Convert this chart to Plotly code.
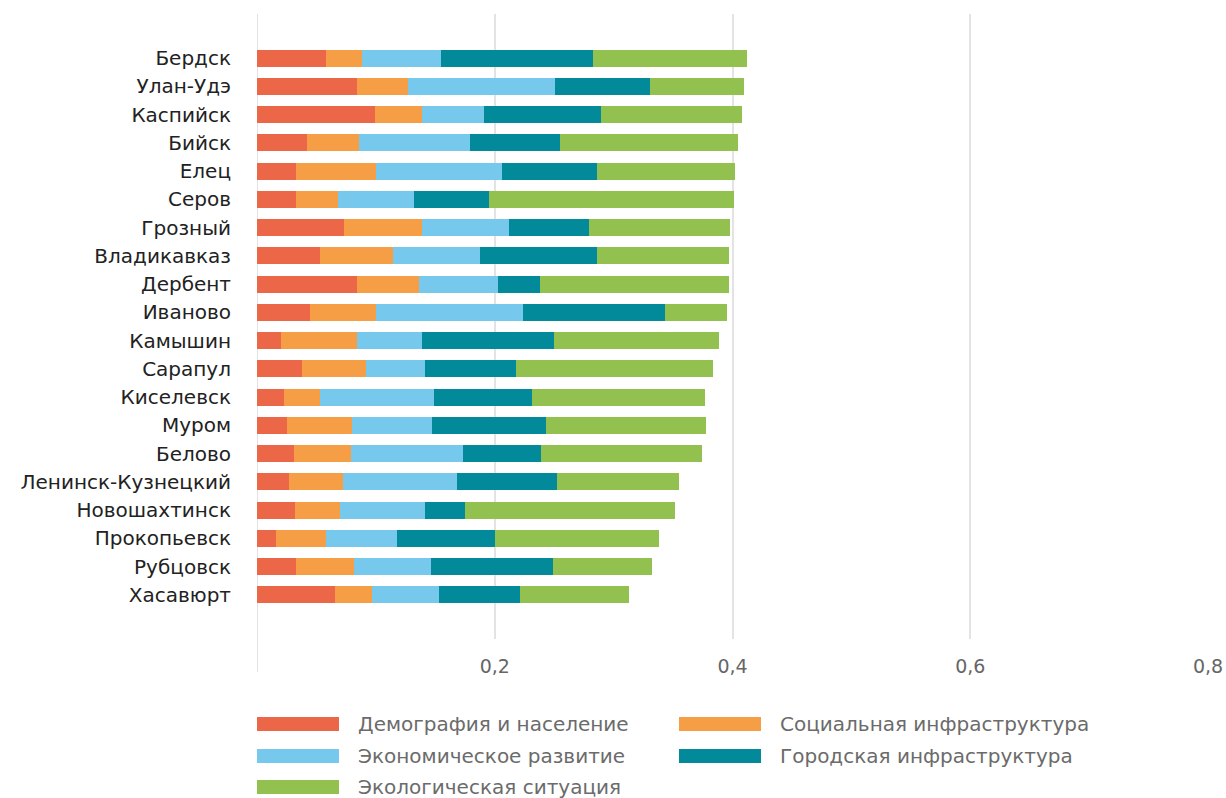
import plotly.graph_objects as go

cities = ["Бердск", "Улан-Удэ", "Каспийск", "Бийск", "Елец", "Серов", "Грозный",
          "Владикавказ", "Дербент", "Иваново", "Камышин", "Сарапул", "Киселевск",
          "Муром", "Белово", "Ленинск-Кузнецкий", "Новошахтинск", "Прокопьевск",
          "Рубцовск", "Хасавюрт"]

demography = [0.058, 0.084, 0.099, 0.042, 0.033, 0.033, 0.073, 0.053, 0.084, 0.045,
              0.020, 0.038, 0.023, 0.025, 0.031, 0.027, 0.032, 0.016, 0.033, 0.066]
social = [0.030, 0.043, 0.040, 0.044, 0.067, 0.035, 0.066, 0.061, 0.052, 0.055,
          0.064, 0.054, 0.030, 0.055, 0.048, 0.045, 0.038, 0.042, 0.049, 0.031]
economy = [0.067, 0.124, 0.052, 0.093, 0.106, 0.064, 0.073, 0.074, 0.067, 0.124,
           0.055, 0.049, 0.096, 0.067, 0.094, 0.096, 0.071, 0.060, 0.064, 0.056]
urban = [0.128, 0.080, 0.098, 0.076, 0.080, 0.063, 0.067, 0.098, 0.035, 0.119,
         0.111, 0.077, 0.082, 0.096, 0.066, 0.084, 0.034, 0.082, 0.103, 0.068]
ecology = [0.129, 0.079, 0.119, 0.150, 0.116, 0.206, 0.119, 0.111, 0.159, 0.052,
           0.139, 0.166, 0.146, 0.135, 0.135, 0.103, 0.177, 0.138, 0.083, 0.092]

series_names = ["Демография и население", "Социальная инфраструктура",
                "Экономическое развитие", "Городская инфраструктура",
                "Экологическая ситуация"]
series_values = [demography, social, economy, urban, ecology]
colors = ["#EC6648", "#F59E46", "#76C9ED", "#028A9B", "#92C150"]

tick_vals = [0.2, 0.4, 0.6, 0.8]
tick_text = ["0,2", "0,4", "0,6", "0,8"]

W, H = 1226, 798
L, R, T, B = 257, 18, 14, 159
pw, ph = W - L - R, H - T - B

fig = go.Figure()
for name, vals, col in zip(series_names, series_values, colors):
    fig.add_trace(go.Bar(y=cities, x=vals, name=name, orientation="h",
                         marker=dict(color=col, line=dict(width=0)),
                         width=0.6, showlegend=False))

FONT = "DejaVu Sans"

def px_x(px):
    return (px - L) / pw

def px_y(py):
    return (H - B - py) / ph

shapes = [dict(type="line", xref="x", yref="paper", x0=0, x1=0,
               y0=1, y1=px_y(672), line=dict(color="#e3e3e3", width=2), layer="below")]
annotations = []

legend_pos = [(257, 724), (679, 724), (257, 756), (679, 756), (257, 787)]
for (lx, ly), name, col in zip(legend_pos, series_names, colors):
    shapes.append(dict(type="rect", xref="paper", yref="paper",
                       x0=px_x(lx), x1=px_x(lx + 82), y0=px_y(ly + 7), y1=px_y(ly - 7),
                       fillcolor=col, line=dict(width=0)))
    annotations.append(dict(xref="paper", yref="paper", x=px_x(lx + 99), y=px_y(ly),
                            text=name, showarrow=False, xanchor="left", yanchor="middle",
                            font=dict(family=FONT, size=20, color="#6b6b6b")))

fig.update_layout(
    barmode="stack",
    width=W, height=H,
    margin=dict(l=L, r=R, t=T, b=B, autoexpand=False),
    paper_bgcolor="white", plot_bgcolor="white",
    font=dict(family=FONT),
    xaxis=dict(range=[0, 0.8], tickvals=tick_vals, ticktext=tick_text,
               showgrid=True, gridcolor="#e3e3e3", gridwidth=2, zeroline=False,
               showline=False, ticks="", ticklabelstandoff=14,
               tickfont=dict(family=FONT, size=19, color="#666666")),
    yaxis=dict(type="category", range=[20.56, -1.56], showgrid=False, zeroline=False,
               showline=False, ticks="", ticklabelstandoff=25,
               tickfont=dict(family=FONT, size=20, color="#222222")),
    shapes=shapes, annotations=annotations, bargap=0.4,
)

fig.write_html("out.html", config={"displayModeBar": False},
               post_script="document.body.style.margin='0';")
